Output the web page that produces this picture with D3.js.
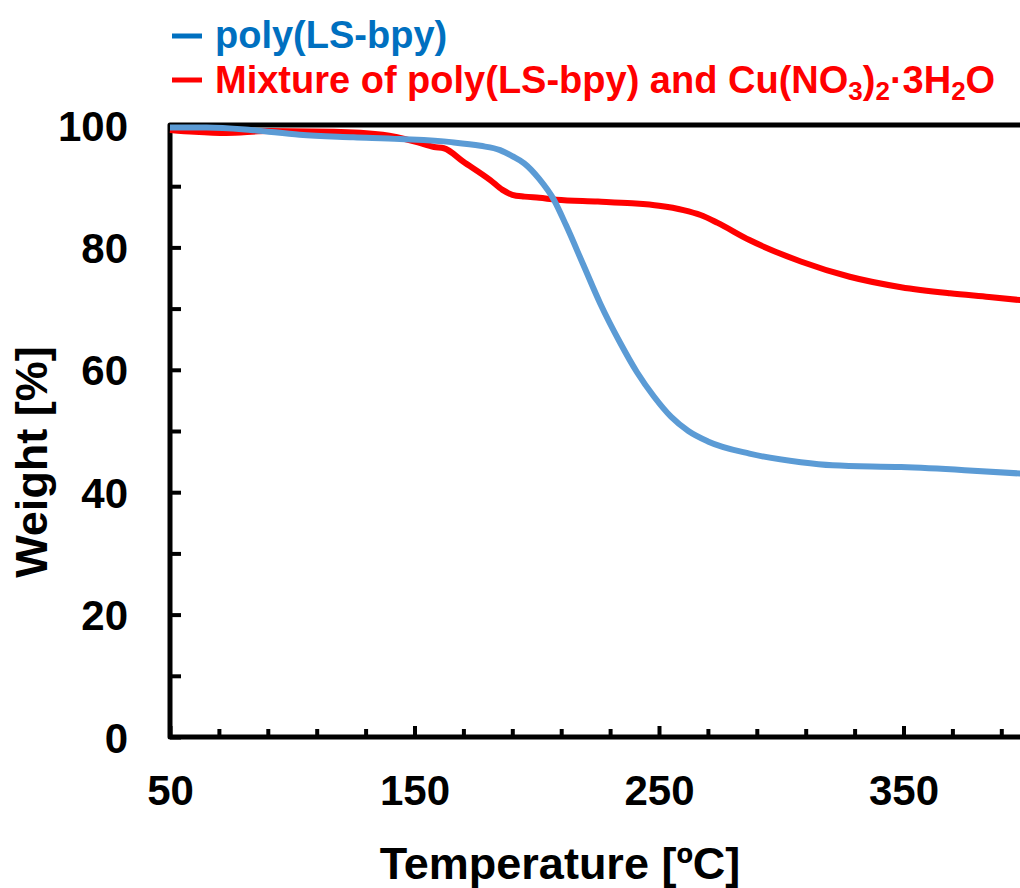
<!DOCTYPE html>
<html>
<head>
<meta charset="utf-8">
<script src="https://cdn.jsdelivr.net/npm/d3@7/dist/d3.min.js"></script>
<style>
  html, body { margin: 0; padding: 0; background: #fff; }
  svg { display: block; }
  text { font-family: "Liberation Sans", Arial, sans-serif; font-weight: bold; }
</style>
</head>
<body>
<svg id="chart" width="1020" height="888"></svg>
<script>
// TGA curves: temperature (ºC) vs. remaining weight (%)
const polyTemp = [50, 65, 83, 103, 125, 144, 165, 177, 185, 190, 195, 201, 207, 212, 219, 226, 234, 241, 248, 255, 262, 270, 287, 308, 321, 349, 375, 400];
const polyWeight = [99.6, 99.6, 99.2, 98.4, 98.0, 97.7, 97.2, 96.6, 95.9, 94.9, 93.7, 91.2, 87.8, 83.6, 77.2, 70.8, 64.5, 59.6, 55.6, 52.3, 50.0, 48.3, 46.3, 44.9, 44.4, 44.1, 43.6, 43.0];

const mixTemp = [50, 60, 73, 90, 117, 137, 151, 158, 162, 170, 181, 186, 190, 195, 201, 208, 225, 239, 250, 260, 267, 274, 287, 308, 328, 349, 369, 385, 400];
const mixWeight = [99.2, 98.9, 98.7, 99.0, 98.9, 98.4, 97.2, 96.4, 96.2, 94.0, 91.0, 89.4, 88.6, 88.3, 88.1, 87.8, 87.5, 87.2, 86.8, 86.1, 85.3, 84.0, 81.2, 77.7, 75.2, 73.5, 72.5, 71.9, 71.3];

const xLabelTicks = [50, 150, 250, 350];
const xMinorTicks = d3.range(70, 400, 20).filter(v => !xLabelTicks.includes(v));
const yTicks = d3.range(0, 101, 10);

const svg = d3.select("#chart");

const x = d3.scaleLinear().domain([50, 400]).range([170, 1025.75]);
const y = d3.scaleLinear().domain([0, 100]).range([737, 125]);

// y axis: ticks every 10, labels every 20, ticks pointing inward
const yAxis = svg.append("g")
  .attr("transform", `translate(${x(50)},0)`)
  .call(d3.axisLeft(y).tickValues(yTicks).tickSize(-11).tickPadding(42)
    .tickFormat(d => d % 20 === 0 ? d : ""));
yAxis.select(".domain").remove();
yAxis.selectAll(".tick line").attr("stroke", "#000").attr("stroke-width", 4);
yAxis.selectAll(".tick text").attr("fill", "#000").attr("font-size", 42).attr("dy", "0.36em");

// x axis: short ticks every 20, longer ticks at labelled values
const xMinor = svg.append("g")
  .attr("transform", `translate(0,${y(0)})`)
  .call(d3.axisBottom(x).tickValues(xMinorTicks).tickSize(-8).tickFormat(""));
xMinor.select(".domain").remove();
xMinor.selectAll(".tick line").attr("stroke", "#000").attr("stroke-width", 4);

const xMajor = svg.append("g")
  .attr("transform", `translate(0,${y(0)})`)
  .call(d3.axisBottom(x).tickValues(xLabelTicks).tickSize(-11).tickPadding(38));
xMajor.select(".domain").remove();
xMajor.selectAll(".tick line").attr("stroke", "#000").attr("stroke-width", 4);
xMajor.selectAll(".tick text").attr("fill", "#000").attr("font-size", 42).attr("dy", "0.71em");

// plot frame (top, left, bottom)
svg.append("path")
  .attr("d", `M${x(400)},${y(100)}H${x(50)}V${y(0)}H${x(400)}`)
  .attr("fill", "none")
  .attr("stroke", "#000")
  .attr("stroke-width", 5)
  .attr("stroke-linejoin", "round");

// curves
const line = d3.line()
  .x(d => x(d[0]))
  .y(d => y(d[1]))
  .curve(d3.curveMonotoneX);

svg.append("path")
  .datum(mixTemp.map((t, i) => [t, mixWeight[i]]))
  .attr("d", line)
  .attr("fill", "none")
  .attr("stroke", "#FF0000")
  .attr("stroke-width", 6)
  .attr("stroke-linejoin", "round");

svg.append("path")
  .datum(polyTemp.map((t, i) => [t, polyWeight[i]]))
  .attr("d", line)
  .attr("fill", "none")
  .attr("stroke", "#5B9BD5")
  .attr("stroke-width", 6)
  .attr("stroke-linejoin", "round");

// axis titles
svg.append("text")
  .attr("x", 560).attr("y", 879)
  .attr("text-anchor", "middle")
  .attr("font-size", 45)
  .attr("fill", "#000")
  .text("Temperature [ºC]");

svg.append("text")
  .attr("transform", "translate(47,462) rotate(-90)")
  .attr("text-anchor", "middle")
  .attr("font-size", 45)
  .attr("fill", "#000")
  .text("Weight [%]");

// legend
const legend = svg.append("g");
legend.append("line")
  .attr("x1", 172).attr("x2", 202).attr("y1", 36).attr("y2", 36)
  .attr("stroke", "#0070C0").attr("stroke-width", 5);
legend.append("text")
  .attr("x", 215).attr("y", 48)
  .attr("font-size", 38).attr("fill", "#0070C0")
  .text("poly(LS-bpy)");

legend.append("line")
  .attr("x1", 172).attr("x2", 202).attr("y1", 80).attr("y2", 80)
  .attr("stroke", "#FF0000").attr("stroke-width", 5);
const mixLabel = legend.append("text")
  .attr("x", 215).attr("y", 93)
  .attr("font-size", 38).attr("fill", "#FF0000");
const parts = [
  ["Mixture of poly(LS-bpy) and Cu(NO", false],
  ["3", true], [")", false], ["2", true],
  ["·3H", false], ["2", true], ["O", false]
];
parts.forEach(([txt, sub]) => {
  mixLabel.append("tspan")
    .attr("font-size", sub ? 26 : 38)
    .attr("baseline-shift", sub ? "-28%" : null)
    .text(txt);
});
</script>
</body>
</html>
